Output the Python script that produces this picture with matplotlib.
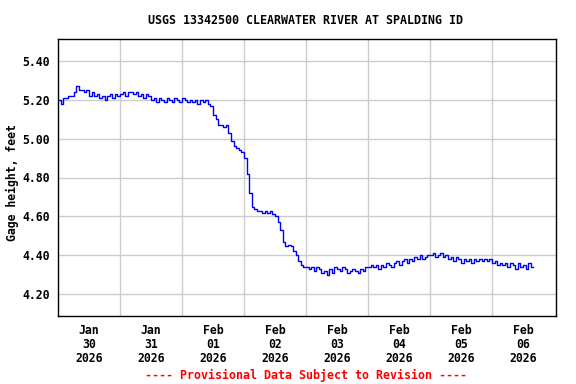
import numpy as np
import matplotlib
matplotlib.use("Agg")
import matplotlib.pyplot as plt

# Hourly gage height (ft), starting Jan 30 2026 00:00
gage_jan30 = [5.20, 5.18, 5.21, 5.21, 5.22, 5.22, 5.24, 5.27, 5.25, 5.25, 5.24, 5.25,
              5.22, 5.24, 5.22, 5.23, 5.21, 5.22, 5.20, 5.22, 5.23, 5.21, 5.23, 5.22]
gage_jan31 = [5.23, 5.24, 5.22, 5.24, 5.24, 5.23, 5.24, 5.22, 5.23, 5.21, 5.23, 5.22,
              5.20, 5.21, 5.19, 5.21, 5.20, 5.19, 5.21, 5.20, 5.19, 5.21, 5.20, 5.19]
gage_feb01 = [5.21, 5.20, 5.19, 5.20, 5.19, 5.20, 5.18, 5.20, 5.19, 5.20, 5.18, 5.17,
              5.12, 5.10, 5.07, 5.07, 5.06, 5.07, 5.03, 4.99, 4.96, 4.95, 4.94, 4.93]
gage_feb02 = [4.90, 4.82, 4.72, 4.65, 4.64, 4.63, 4.63, 4.62, 4.63, 4.62, 4.63, 4.61,
              4.60, 4.57, 4.53, 4.47, 4.45, 4.455, 4.45, 4.42, 4.40, 4.37, 4.35, 4.34]
gage_feb03 = [4.34, 4.33, 4.34, 4.32, 4.34, 4.33, 4.31, 4.32, 4.30, 4.33, 4.31, 4.34,
              4.33, 4.32, 4.34, 4.33, 4.31, 4.32, 4.33, 4.32, 4.31, 4.33, 4.32, 4.34]
gage_feb04 = [4.34, 4.35, 4.34, 4.35, 4.33, 4.35, 4.34, 4.36, 4.35, 4.34, 4.36, 4.37,
              4.35, 4.37, 4.38, 4.36, 4.38, 4.37, 4.39, 4.38, 4.40, 4.38, 4.39, 4.40]
gage_feb05 = [4.40, 4.41, 4.39, 4.40, 4.41, 4.39, 4.40, 4.38, 4.39, 4.37, 4.39, 4.38,
              4.36, 4.38, 4.37, 4.38, 4.36, 4.38, 4.37, 4.38, 4.37, 4.38, 4.37, 4.38]
gage_feb06 = [4.36, 4.37, 4.35, 4.36, 4.35, 4.36, 4.34, 4.36, 4.35, 4.33, 4.36, 4.34,
              4.35, 4.33, 4.36, 4.34, 4.34]

gage = (gage_jan30 + gage_jan31 + gage_feb01 + gage_feb02 +
        gage_feb03 + gage_feb04 + gage_feb05 + gage_feb06)
hours = np.arange(len(gage))  # hours since Jan 30 00:00

day_labels = ["Jan\n30\n2026", "Jan\n31\n2026", "Feb\n01\n2026", "Feb\n02\n2026",
              "Feb\n03\n2026", "Feb\n04\n2026", "Feb\n05\n2026", "Feb\n06\n2026"]
y_ticks = [4.20, 4.40, 4.60, 4.80, 5.00, 5.20, 5.40]

FONT = "DejaVu Sans Mono"
FS = 8.3
W, H = 576, 384
fig = plt.figure(figsize=(W / 100, H / 100), dpi=100)
L, R, T, B = 58, 556, 39, 316
ax = fig.add_axes([L / W, 1 - B / H, (R - L) / W, (B - T) / H])

ax.plot(hours, gage, color="#0000ff", linewidth=1.0, drawstyle="steps-post")

ax.set_xlim(0, (R - L) / 62 * 24)
ax.set_ylim(4.088, 5.512)

ax.set_xticks([24 * i for i in range(1, 8)])
ax.set_xticklabels([])
ax.set_xticks([24 * i + 12 for i in range(8)], minor=True)
ax.set_xticklabels(day_labels, minor=True, fontfamily=FONT, fontweight="bold",
                   fontsize=FS, linespacing=1.1)
ax.tick_params(axis="x", which="both", length=0)
ax.tick_params(axis="x", which="minor", pad=6)

ax.set_yticks(y_ticks)
ax.set_yticklabels([f"{v:.2f}" for v in y_ticks], fontfamily=FONT,
                   fontweight="bold", fontsize=FS)
ax.tick_params(axis="y", length=0, pad=6)

ax.grid(True, which="major", color="#cccccc", linewidth=1.0)
ax.set_axisbelow(True)
for s in ax.spines.values():
    s.set_linewidth(1.0)
    s.set_color("black")

fig.text(306 / W, 1 - 20 / H, "USGS 13342500 CLEARWATER RIVER AT SPALDING ID",
         ha="center", va="center", fontfamily=FONT, fontweight="bold", fontsize=8.4)
fig.text(12 / W, 1 - 183 / H, "Gage height, feet", rotation=90,
         ha="center", va="center", fontfamily=FONT, fontweight="bold", fontsize=FS)
fig.text(306 / W, 1 - 375 / H, "---- Provisional Data Subject to Revision ----",
         ha="center", va="center", fontfamily=FONT, fontweight="bold", fontsize=8.4,
         color="#ff0000")

fig.savefig("out.png", dpi=100)
